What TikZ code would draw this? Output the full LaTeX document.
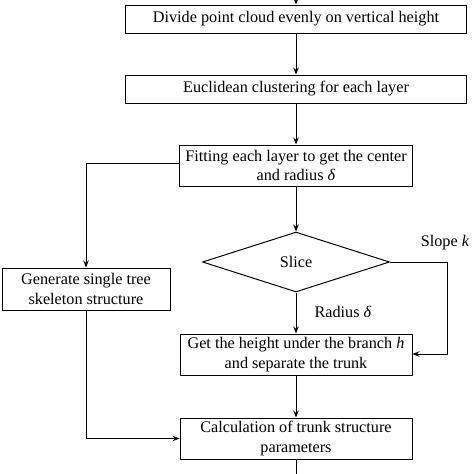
\documentclass[tikz,border=0pt]{standalone}
\usepackage{fontspec}
\setmainfont{Liberation Serif}
\usetikzlibrary{shapes.geometric,arrows.meta}
\begin{document}
\begin{tikzpicture}[x=1pt,y=-1pt,
  box/.style={draw,line width=1pt,inner sep=0pt,align=center,font=\fontsize{16.2}{19.5}\selectfont},
  lbl/.style={inner sep=0pt,font=\fontsize{16.2}{19.5}\selectfont},
  arr/.style={line width=1pt,-{Stealth[length=7pt,width=5.5pt]}},
  ln/.style={line width=1pt}]
\useasboundingbox (0,0) rectangle (474,474);
\node[box,minimum width=341pt,minimum height=28pt] (b1) at (296,19) {Divide point cloud evenly on vertical height};
\node[box,minimum width=341pt,minimum height=28pt] (b2) at (296,89) {Euclidean clustering for each layer};
\node[box,minimum width=233pt,minimum height=41pt] (b3) at (296,165.5) {Fitting each layer to get the center\\and radius \textit{δ}};
\node[draw,line width=1pt,diamond,aspect=3.1,inner sep=0pt,minimum width=187pt,minimum height=60pt,font=\fontsize{16.2}{19.5}\selectfont] (d) at (296,262) {Slice};
\node[box,minimum width=168pt,minimum height=42pt] (b4) at (86,289) {Generate single tree\\skeleton structure};
\node[box,minimum width=232pt,minimum height=41pt] (b5) at (296,354.5) {Get the height under the branch \textit{h}\\and separate the trunk};
\node[box,minimum width=232pt,minimum height=41pt] (b6) at (296,438.5) {Calculation of trunk structure\\parameters};
\coordinate (top) at (296,0);
\coordinate (bot) at (296,474);
\node[lbl] (sk) at (445,243) {Slope \textit{k}};
\node[lbl] (rd) at (343,312) {Radius \textit{δ}};
\draw[arr] (top) -- (b1.north);
\draw[arr] (b1.south) -- (b2.north);
\draw[arr] (b2.south) -- (b3.north);
\draw[arr] (b3.south) -- (d.north);
\draw[arr] (d.south) -- (b5.north);
\draw[arr] (b5.south) -- (b6.north);
\draw[ln] (b6.south) -- (bot);
\draw[arr] (b3.west |- 0,163) -| (b4.north);
\draw[arr] (d.east) -| (447,354) -- (b5.east |- 0,354);
\draw[arr] (b4.south) |- (b6.west);
\end{tikzpicture}
\end{document}
